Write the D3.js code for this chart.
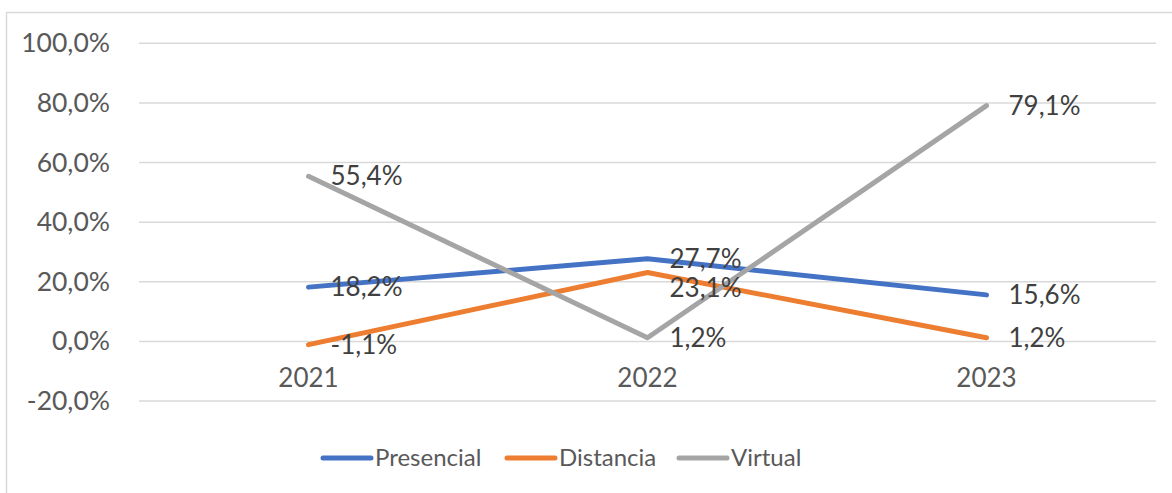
<!DOCTYPE html>
<meta charset="utf-8">
<title>Variación por modalidad</title>
<style>
  body { margin: 0; background: #fff; }
  text { font-family: Lato, "Liberation Sans", sans-serif; }
</style>
<body>
<div id="chart"></div>
<script src="https://d3js.org/d3.v7.min.js"></script>
<script>

// datos
var years = ["2021", "2022", "2023"];
var presencial = [18.2, 27.7, 15.6];
var distancia = [-1.1, 23.1, 1.2];
var virtual = [55.4, 1.2, 79.1];
var seriesNames = ["Presencial", "Distancia", "Virtual"];
var yTicks = [-20, 0, 20, 40, 60, 80, 100];

var colors = ["#4472C4", "#ED7D31", "#A5A5A5"];
var allSeries = [presencial, distancia, virtual];

var W = 1172, H = 493;
var plotLeft = 139, plotRight = 1156, plotTop = 43.3, plotBottom = 401;

var svg = d3.select("#chart").append("svg")
    .attr("width", W)
    .attr("height", H);

// marco del grafico
svg.append("rect")
    .attr("x", 6.5).attr("y", 12.5)
    .attr("width", W).attr("height", H)
    .attr("fill", "none")
    .attr("stroke", "#D9D9D9")
    .attr("stroke-width", 1.5);

var x = d3.scaleBand()
    .domain(years)
    .range([plotLeft, plotRight]);

var y = d3.scaleLinear()
    .domain([-20, 100])
    .range([plotBottom, plotTop]);

var fmt = function(v) { return v.toFixed(1).replace(".", ",") + "%"; };

// lineas de grilla
svg.append("g")
  .selectAll("line")
  .data(yTicks)
  .enter().append("line")
    .attr("x1", plotLeft).attr("x2", plotRight)
    .attr("y1", function(d) { return y(d); })
    .attr("y2", function(d) { return y(d); })
    .attr("stroke", "#D9D9D9")
    .attr("stroke-width", 1.5);

// eje y
var yAxis = svg.append("g")
    .attr("transform", "translate(" + (plotLeft - 29) + ",0)")
    .call(d3.axisLeft(y).tickValues(yTicks).tickSize(0).tickPadding(0).tickFormat(fmt));
yAxis.select(".domain").remove();
yAxis.selectAll("text")
    .attr("font-size", 26.5)
    .attr("fill", "#595959")
    .style("font-family", "Lato, sans-serif");

// eje x (etiquetas debajo del cero)
var xAxis = svg.append("g")
    .attr("transform", "translate(0," + y(0) + ")")
    .call(d3.axisBottom(x).tickSize(0).tickPadding(27));
xAxis.select(".domain").remove();
xAxis.selectAll("text")
    .attr("font-size", 26)
    .attr("fill", "#595959")
    .style("font-family", "Lato, sans-serif");

var cx = function(i) { return x(years[i]) + x.bandwidth() / 2; };

var line = d3.line()
    .x(function(d, i) { return cx(i); })
    .y(function(d) { return y(d); });

svg.append("g")
  .selectAll("path")
  .data(allSeries)
  .enter().append("path")
    .attr("d", line)
    .attr("fill", "none")
    .attr("stroke", function(d, i) { return colors[i]; })
    .attr("stroke-width", 5)
    .attr("stroke-linecap", "round")
    .attr("stroke-linejoin", "round");

// etiquetas de datos, a la derecha del punto; se empujan abajo si chocan
var labels = [];
allSeries.forEach(function(s, si) {
  s.forEach(function(v, i) {
    labels.push({ v: v, i: i, x: cx(i), y: y(v) });
  });
});
years.forEach(function(yr, i) {
  var grp = labels.filter(function(l) { return l.i === i; })
    .sort(function(a, b) { return a.y - b.y; });
  for (var k = 1; k < grp.length; k++) {
    if (grp[k].y - grp[k - 1].y < 29) grp[k].y = grp[k - 1].y + 29;
  }
});

svg.append("g")
  .selectAll("text")
  .data(labels)
  .enter().append("text")
    .attr("x", function(d) { return d.x + 22; })
    .attr("y", function(d) { return d.y; })
    .attr("dy", "0.35em")
    .attr("font-size", 26)
    .attr("fill", "#404040")
    .text(function(d) { return fmt(d.v); });

// leyenda
var legendX = [323, 507, 679];
var legend = svg.append("g")
  .selectAll("g")
  .data(seriesNames)
  .enter().append("g")
    .attr("transform", function(d, i) { return "translate(" + legendX[i] + ",458)"; });
legend.append("line")
    .attr("x1", 0).attr("x2", 48)
    .attr("stroke", function(d, i) { return colors[i]; })
    .attr("stroke-width", 5)
    .attr("stroke-linecap", "round");
legend.append("text")
    .attr("x", 52)
    .attr("dy", "0.35em")
    .attr("font-size", 24)
    .attr("fill", "#595959")
    .text(function(d) { return d; });

</script>
</body>
